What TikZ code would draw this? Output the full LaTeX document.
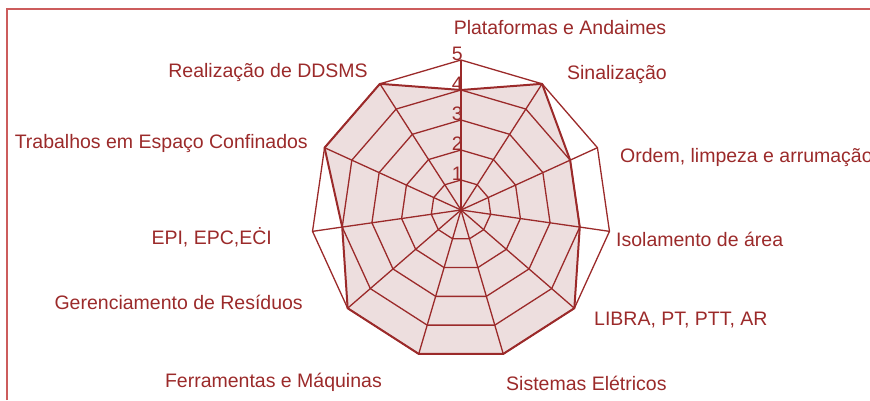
\documentclass[tikz,border=0pt]{standalone}
\usepackage{fontspec}
\setmainfont{Liberation Sans}
\definecolor{radar}{RGB}{155,42,42}
\definecolor{radarfill}{RGB}{237,222,222}
\definecolor{framered}{RGB}{204,92,92}
\begin{document}
\begin{tikzpicture}[x=1pt,y=1pt,
    lbl/.style={text=radar,font=\fontsize{19.5}{23}\selectfont,inner sep=0pt},
    grid/.style={draw=radar,line width=1.3pt,line join=round}]
    \useasboundingbox (-461,-190) rectangle (409,210);
    \draw[framered,line width=2pt] (-454,-190) -- (-454,201) -- (409,201);
    
    \coordinate (O) at (0,0);
    \foreach \i in {0,...,10}
        \coordinate (A\i) at ({90-\i*360/11}:150);
    \foreach \v [count=\i from 0] in {4,5,4,4,5,5,5,5,4,5,5}
        \coordinate (D\i) at ({90-\i*360/11}:{30*\v});
    
    % data area
    \fill[radarfill] (D0) \foreach \i in {1,...,10}{ -- (D\i)} -- cycle;
    
    % rings and spokes
    \foreach \k in {1,...,5}
        \draw[grid] (90:{30*\k}) \foreach \i in {1,...,10}{ -- ({90-\i*360/11}:{30*\k})} -- cycle;
    \foreach \i in {0,...,10}
        \draw[grid] (O) -- (A\i);
    \draw[radar,line width=2pt,line join=round] (D0) \foreach \i in {1,...,10}{ -- (D\i)} -- cycle;
    
    % scale
    \foreach \k in {1,...,5}
        \node[lbl,anchor=south east] (N\k) at (2,{30*\k-1}) {\k};
    
    % axis labels
    \node[lbl] (L0) at (99,182) {Plataformas e Andaimes};
    \node[lbl] (L1) at (156,136) {Sinalização};
    \node[lbl,anchor=west] (L2) at (159,53) {Ordem, limpeza e arrumação};
    \node[lbl,anchor=west] (L3) at (155,-29) {Isolamento de área};
    \node[lbl,anchor=west] (L4) at (133,-110) {LIBRA, PT, PTT, AR};
    \node[lbl,anchor=west] (L5) at (45,-173) {Sistemas Elétricos};
    \node[lbl,anchor=east] (L6) at (-79,-172) {Ferramentas e Máquinas};
    \node[lbl,anchor=east] (L7) at (-158,-92) {Gerenciamento de Resíduos};
    \node[lbl,anchor=east] (L8) at (-189,-27) {EPI, EPC,EĊI};
    \node[lbl,anchor=east] (L9) at (-153,67) {Trabalhos em Espaço Confinados};
    \node[lbl,anchor=east] (L10) at (-93,138) {Realização de DDSMS};
    
\end{tikzpicture}
\end{document}
